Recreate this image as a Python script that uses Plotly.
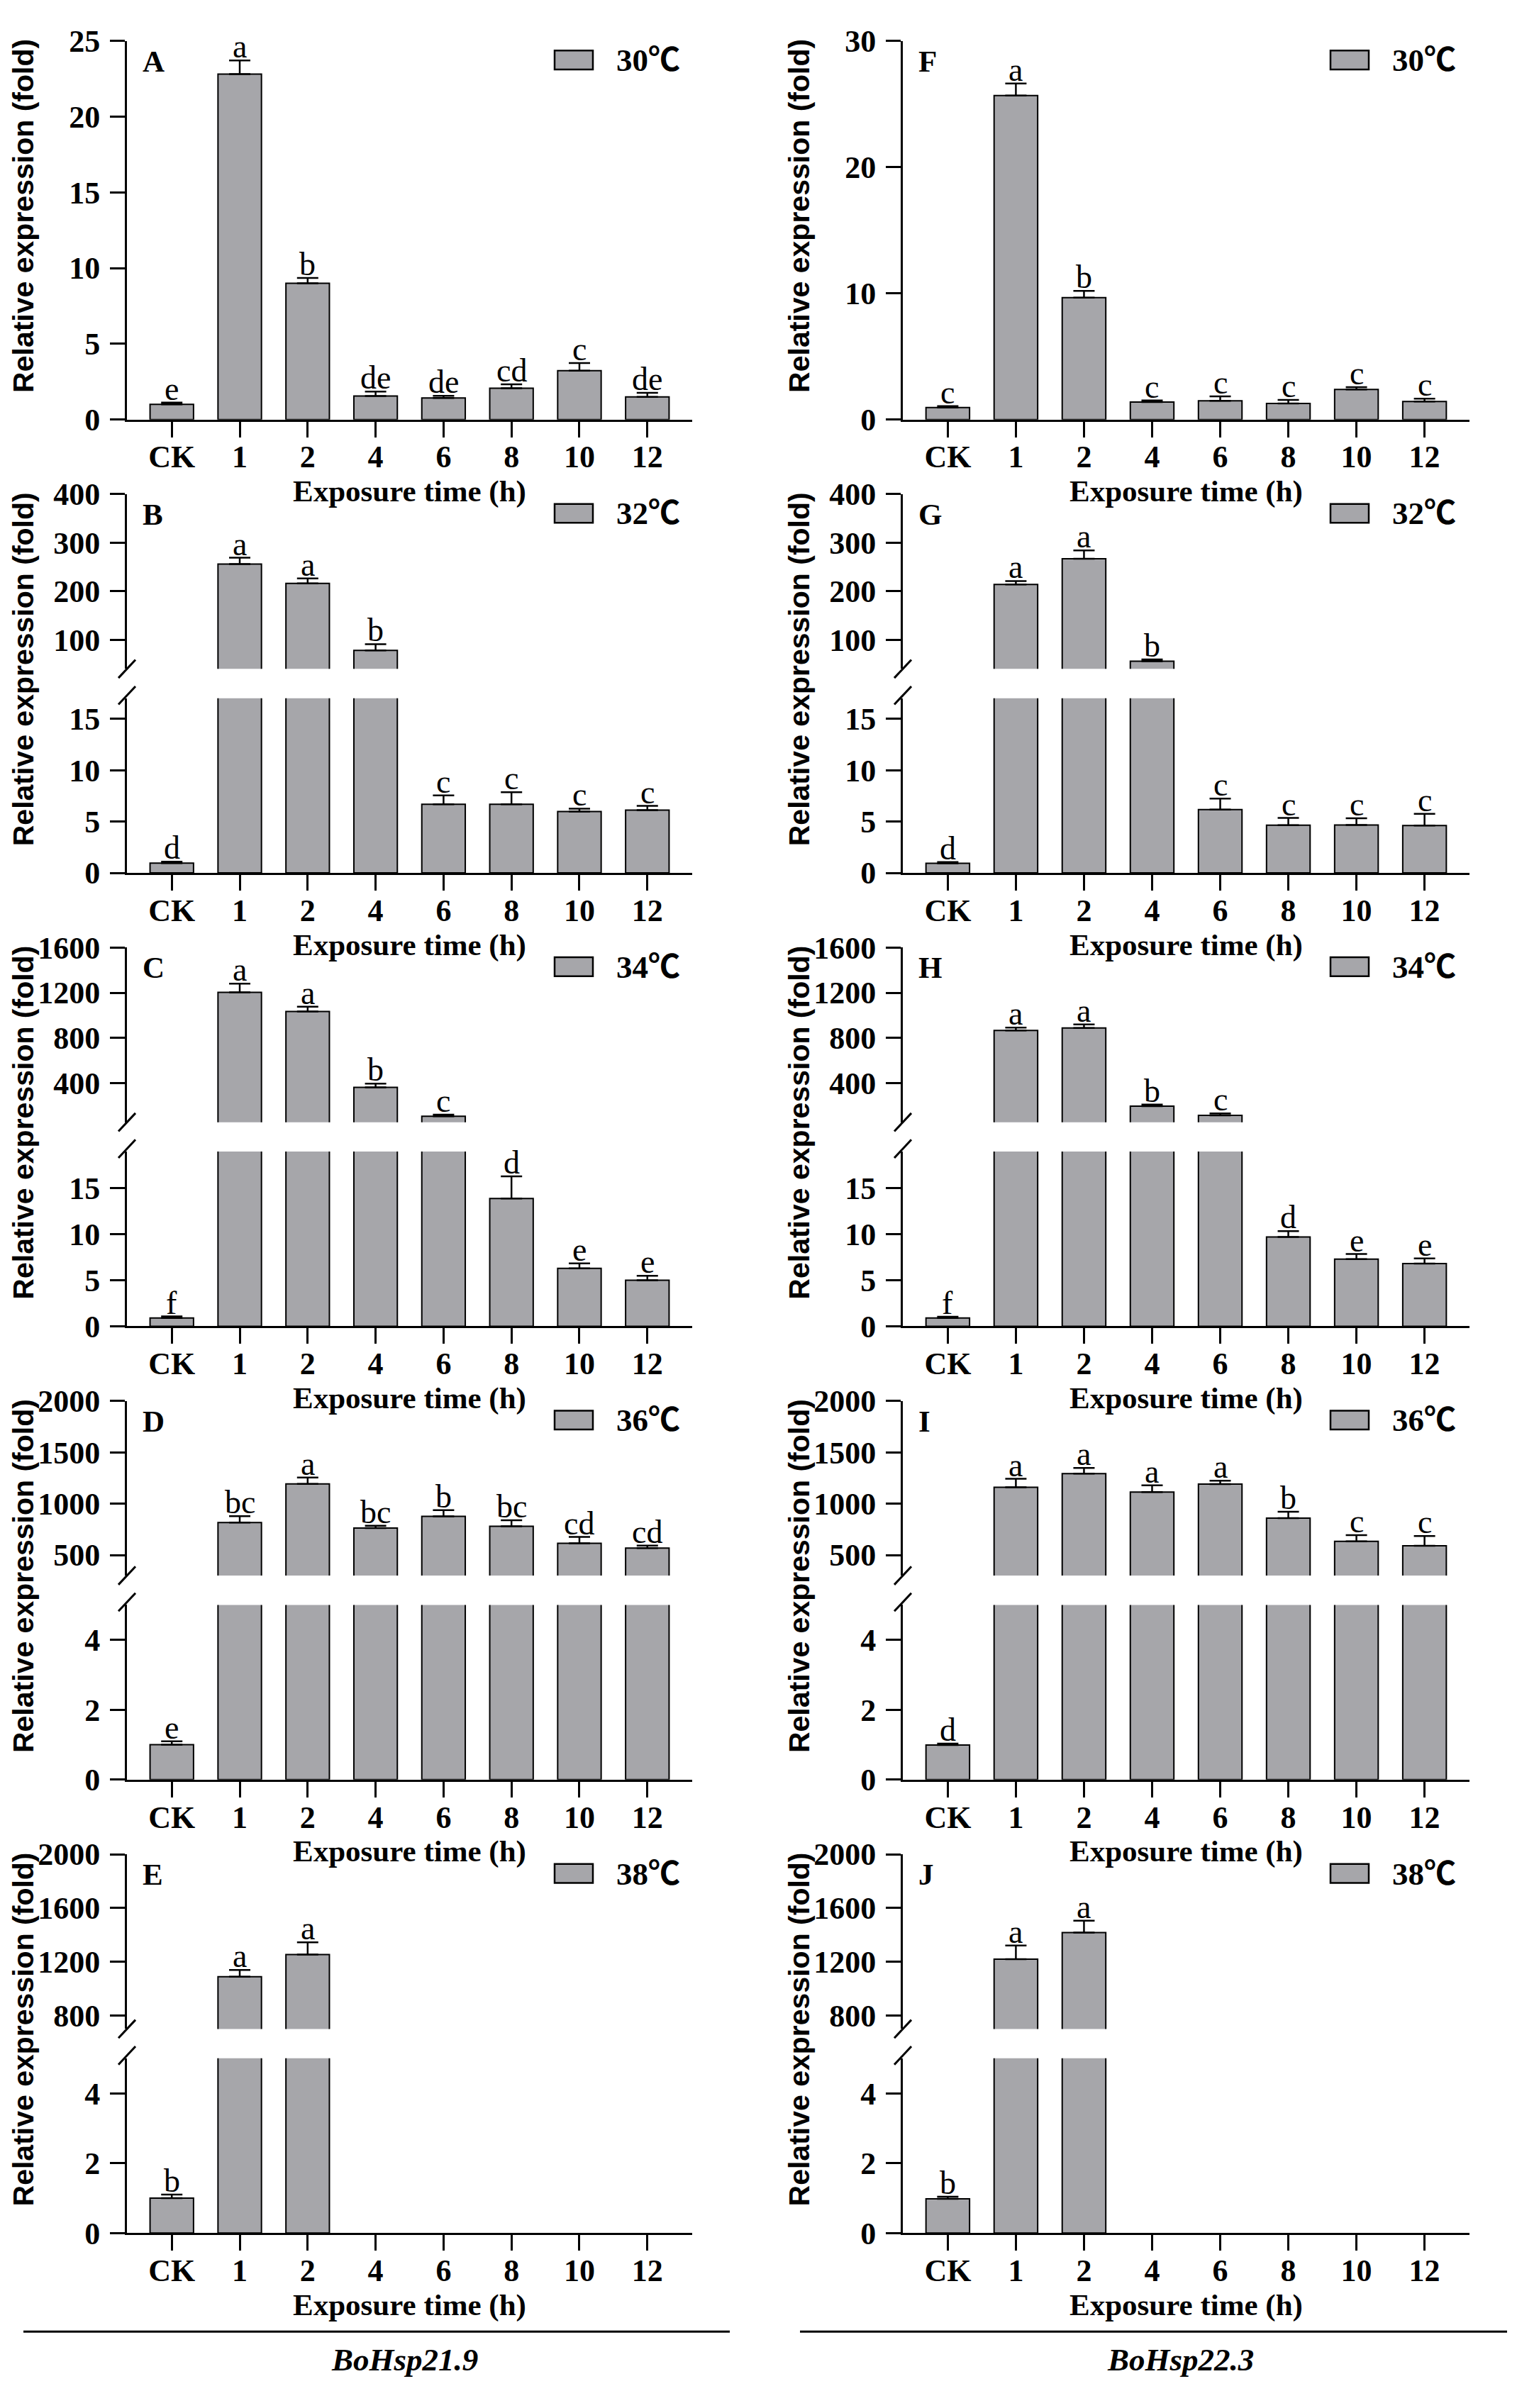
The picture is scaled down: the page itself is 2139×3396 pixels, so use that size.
import plotly.graph_objects as go

categories = ["CK", "1", "2", "4", "6", "8", "10", "12"]
temps = ["30℃", "32℃", "34℃", "36℃", "38℃"]
genes = ["BoHsp21.9", "BoHsp22.3"]
letters = ["A", "B", "C", "D", "E", "F", "G", "H", "I", "J"]

# BoHsp21.9
a_mean = [1.0, 22.8, 9.0, 1.55, 1.42, 2.07, 3.23, 1.49]
a_err = [0.12, 0.9, 0.35, 0.3, 0.15, 0.25, 0.5, 0.27]
a_sig = ["e", "a", "b", "de", "de", "cd", "c", "de"]

b_mean = [0.95, 256, 216, 78, 6.68, 6.68, 5.97, 6.12]
b_err = [0.15, 13, 10.5, 13, 0.87, 1.18, 0.28, 0.4]
b_sig = ["d", "a", "a", "b", "c", "c", "c", "c"]

c_mean = [0.9, 1204, 1035, 363, 108, 13.9, 6.3, 5.0]
c_err = [0.17, 76, 42, 34, 14, 2.4, 0.55, 0.5]
c_sig = ["f", "a", "a", "b", "c", "d", "e", "e"]

d_mean = [1.0, 817, 1193, 762, 876, 780, 614, 568]
d_err = [0.1, 62, 62, 24, 61, 59, 62, 24]
d_sig = ["e", "bc", "a", "bc", "b", "bc", "cd", "cd"]

e_mean = [1.0, 1089, 1254, None, None, None, None, None]
e_err = [0.1, 50, 91, None, None, None, None, None]
e_sig = ["b", "a", "a", "", "", "", "", ""]

# BoHsp22.3
f_mean = [0.95, 25.66, 9.66, 1.38, 1.48, 1.28, 2.39, 1.43]
f_err = [0.12, 0.95, 0.53, 0.13, 0.35, 0.28, 0.18, 0.23]
f_sig = ["c", "a", "b", "c", "c", "c", "c", "c"]

g_mean = [0.93, 214, 267, 55.6, 6.16, 4.64, 4.67, 4.61]
g_err = [0.12, 7, 17, 4, 1.08, 0.71, 0.65, 1.14]
g_sig = ["d", "a", "a", "b", "c", "c", "c", "c"]

h_mean = [0.9, 866, 889, 198, 116, 9.72, 7.31, 6.83]
h_err = [0.13, 26, 31, 14, 17, 0.62, 0.55, 0.55]
h_sig = ["f", "a", "a", "b", "c", "d", "e", "e"]

i_mean = [0.99, 1159, 1292, 1113, 1190, 860, 633, 590]
i_err = [0.04, 83, 55, 65, 34, 62, 61, 95]
i_sig = ["d", "a", "a", "a", "a", "b", "c", "c"]

j_mean = [0.98, 1220, 1418, None, None, None, None, None]
j_err = [0.06, 101, 88, None, None, None, None, None]
j_sig = ["b", "a", "a", "", "", "", "", ""]

means = [a_mean, b_mean, c_mean, d_mean, e_mean, f_mean, g_mean, h_mean, i_mean, j_mean]
errs = [a_err, b_err, c_err, d_err, e_err, f_err, g_err, h_err, i_err, j_err]
sigs = [a_sig, b_sig, c_sig, d_sig, e_sig, f_sig, g_sig, h_sig, i_sig, j_sig]

# y axis ranges: lower segment per panel, upper segment (broken axis) per temperature row
lower_ranges = [[0, 25], [0, 17], [0, 19], [0, 5], [0, 5],
                [0, 30], [0, 17], [0, 19], [0, 5], [0, 5]]
lower_ticks = [[0, 5, 10, 15, 20, 25], [0, 5, 10, 15], [0, 5, 10, 15], [0, 2, 4], [0, 2, 4],
               [0, 10, 20, 30], [0, 5, 10, 15], [0, 5, 10, 15], [0, 2, 4], [0, 2, 4]]
upper_ranges = [None, [40, 400], [55, 1600], [300, 2000], [700, 2000]]
upper_ticks = [None, [100, 200, 300, 400], [400, 800, 1200, 1600],
               [500, 1000, 1500, 2000], [800, 1200, 1600, 2000]]

W, H = 2139, 3396
SERIF = "Liberation Serif, Times New Roman, Noto Sans CJK SC, serif"
SANS = "Liberation Sans, Arial, sans-serif"
BAR_GRAY = "#a6a6aa"

col_x = [(179, 976), (1273, 2072)]
PANEL_H = 542
row_bot = [576 + 648.75 * r for r in range(5)]
row_top = [b - PANEL_H for b in row_bot]


def fx(px):
    return px / W


def fy(py):
    return 1 - py / H


tick_font = dict(family=SERIF, size=44, color="black", weight="bold")

fig = go.Figure()
layout = {}
annotations = []
shapes = []
n = 0

for p in range(10):
    col, row = p // 5, p % 5
    x0, x1 = col_x[col]
    T, B = row_top[row], row_bot[row]
    broken = upper_ranges[row] is not None

    axis_ids = []
    if broken:
        ub = T + 250
        lt = B - 250
        doms = [[fy(B), fy(lt)], [fy(ub), fy(T)]]
    else:
        doms = [[fy(B), fy(T)]]

    for k, dom in enumerate(doms):
        n += 1
        sfx = "" if n == 1 else str(n)
        axis_ids.append(sfx)
        xa = dict(domain=[fx(x0), fx(x1)], anchor="y" + sfx, range=[-0.66, 7.66],
                  type="category", categoryorder="array", categoryarray=categories,
                  showgrid=False, zeroline=False, fixedrange=True)
        if k == 0:
            xa.update(showline=True, linecolor="black", linewidth=3, ticks="outside",
                      ticklen=22, tickwidth=3, tickcolor="black", tickfont=tick_font,
                      ticklabelstandoff=-10)
            yr, yt = lower_ranges[p], lower_ticks[p]
        else:
            xa.update(visible=False)
            yr, yt = upper_ranges[row], upper_ticks[row]
        ya = dict(domain=dom, anchor="x" + sfx, range=yr, tickvals=yt,
                  showline=True, linecolor="black", linewidth=3, ticks="outside",
                  ticklen=21, tickwidth=3, tickcolor="black", tickfont=tick_font,
                  ticklabelstandoff=5, showgrid=False, zeroline=False, fixedrange=True)
        layout["xaxis" + sfx] = xa
        layout["yaxis" + sfx] = ya

        fig.add_trace(go.Bar(
            x=categories, y=means[p], width=0.64,
            marker=dict(color=BAR_GRAY, line=dict(color="black", width=2)),
            error_y=dict(type="data", array=errs[p], arrayminus=[0] * 8, symmetric=False,
                         color="black", thickness=2.5, width=15),
            xaxis="x" + sfx, yaxis="y" + sfx, showlegend=False, hoverinfo="skip"))

    # significance letters above the error bars
    for i in range(len(categories)):
        if means[p][i] is None:
            continue
        top = means[p][i] + errs[p][i]
        sfx = axis_ids[1] if (broken and top > lower_ranges[p][1]) else axis_ids[0]
        annotations.append(dict(x=i, y=top, xref="x" + sfx, yref="y" + sfx,
                                text=sigs[p][i], showarrow=False, yanchor="bottom",
                                yshift=-8, font=dict(family=SERIF, size=46, color="black")))

    # axis break marks
    if broken:
        for yc, a, b in [(ub, 13, -13), (lt, 9, -17)]:
            shapes.append(dict(type="line", xref="paper", yref="paper",
                               x0=fx(x0 - 12), y0=fy(yc + a), x1=fx(x0 + 12), y1=fy(yc + b),
                               line=dict(color="black", width=3)))

    # panel letter
    annotations.append(dict(x=fx(x0 + 20), y=fy(T + 29), xref="paper", yref="paper",
                            text="<b>%s</b>" % letters[p], showarrow=False,
                            xanchor="left", yanchor="middle",
                            font=dict(family=SERIF, size=43, color="black")))
    # legend box and label
    shapes.append(dict(type="rect", xref="paper", yref="paper",
                       x0=fx(x0 + 603), x1=fx(x0 + 657), y0=fy(T + 41), y1=fy(T + 14),
                       fillcolor=BAR_GRAY, line=dict(color="black", width=2.5)))
    annotations.append(dict(x=fx(x0 + 688), y=fy(T + 28), xref="paper", yref="paper",
                            text="<b>%s</b>" % temps[row], showarrow=False,
                            xanchor="left", yanchor="middle",
                            font=dict(family=SERIF, size=45, color="black")))
    # axis titles
    annotations.append(dict(x=fx(x0 - 146), y=fy((T + B) / 2 - 20), xref="paper", yref="paper",
                            text="<b>Relative expression (fold)</b>", showarrow=False,
                            textangle=-90, xanchor="center", yanchor="middle",
                            font=dict(family=SANS, size=41, color="black")))
    annotations.append(dict(x=fx((x0 + x1) / 2), y=fy(B + 103), xref="paper", yref="paper",
                            text="<b>Exposure time (h)</b>", showarrow=False,
                            xanchor="center", yanchor="middle",
                            font=dict(family=SERIF, size=43, color="black")))

# gene labels under each column
for c, (lx0, lx1, cx) in enumerate([(33, 1029, 570), (1128, 2125, 1664)]):
    shapes.append(dict(type="line", xref="paper", yref="paper",
                       x0=fx(lx0), x1=fx(lx1), y0=fy(3312), y1=fy(3312),
                       line=dict(color="black", width=3)))
    annotations.append(dict(x=fx(cx), y=fy(3352), xref="paper", yref="paper",
                            text="<b><i>%s</i></b>" % genes[c], showarrow=False,
                            xanchor="center", yanchor="middle",
                            font=dict(family=SERIF, size=45, color="black")))

fig.update_layout(**layout)
fig.update_layout(width=W, height=H, margin=dict(l=0, r=0, t=0, b=0),
                  paper_bgcolor="white", plot_bgcolor="white",
                  annotations=annotations, shapes=shapes, showlegend=False)

fig.write_html("out.html", config={"displayModeBar": False},
               post_script="document.body.style.margin='0';")
